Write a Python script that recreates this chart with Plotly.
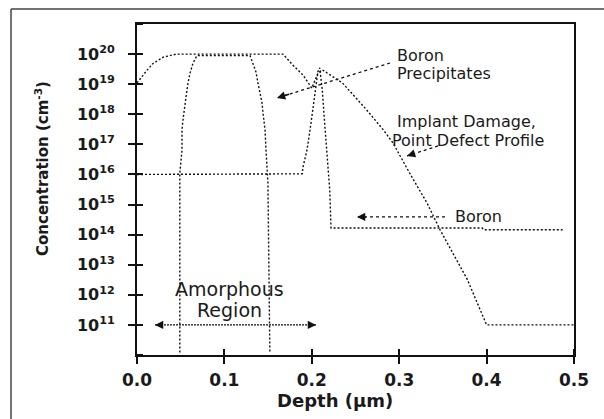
import plotly.graph_objects as go

# ---------------- data ----------------
x_ticks = [0.0, 0.1, 0.2, 0.3, 0.4, 0.5]
x_tick_text = ["0.0", "0.1", "0.2", "0.3", "0.4", "0.5"]
y_ticks = [1e10, 1e11, 1e12, 1e13, 1e14, 1e15, 1e16, 1e17, 1e18, 1e19, 1e20, 1e21]
y_tick_text = ["", "10<sup>11</sup>", "10<sup>12</sup>", "10<sup>13</sup>", "10<sup>14</sup>",
               "10<sup>15</sup>", "10<sup>16</sup>", "10<sup>17</sup>", "10<sup>18</sup>",
               "10<sup>19</sup>", "10<sup>20</sup>", ""]

# Implanted damage / point defect profile
damage_x = [0.0, 0.006, 0.011, 0.018, 0.03, 0.045, 0.167, 0.178, 0.19, 0.2, 0.207, 0.212,
            0.235, 0.261, 0.282, 0.293, 0.312, 0.332, 0.347, 0.378, 0.4, 0.5]
damage_y = [1.1e19, 1.9e19, 2.8e19, 4.8e19, 7.9e19, 1e20, 1e20, 4.4e19, 2.0e19, 7.4e18, 2.3e19, 3.0e19,
            1.1e19, 1.6e18, 3.0e17, 1.1e17, 1.1e16, 1.1e15, 1.4e14, 3.2e12, 1.0e11, 1.0e11]

# Boron profile
boron_x = [0.0, 0.189, 0.19, 0.1945, 0.198, 0.201, 0.204, 0.207, 0.209, 0.212, 0.214, 0.216,
           0.2185, 0.2205, 0.222, 0.395, 0.397, 0.487]
boron_y = [1e16, 1.05e16, 1.8e16, 6.5e16, 3.0e17, 1.4e18, 7.4e18, 2.6e19, 3.5e19, 6.5e18, 9.5e17, 1.4e17,
           2.1e16, 3.1e15, 1.66e14, 1.66e14, 1.45e14, 1.45e14]

# Boron precipitates / amorphous region outline
precip_x = [0.049, 0.049, 0.0515, 0.0515, 0.0526, 0.0549, 0.0572, 0.0584, 0.0606, 0.0641, 0.0686,
            0.1293, 0.1327, 0.1362, 0.1384, 0.1407, 0.143, 0.1442, 0.1465, 0.1476, 0.1487, 0.1498, 0.152]
precip_y = [1.2e10, 1.1e16, 6.5e16, 3.0e17, 6.5e17, 2.6e18, 6.5e18, 1.1e19, 2.3e19, 5.0e19, 8.9e19,
            8.9e19, 5.0e19, 2.5e19, 1.1e19, 5.1e18, 2.4e18, 1.1e18, 3.0e17, 6.5e16, 1.8e16, 5.2e15, 1.2e10]

# Amorphous-region double arrow (depth span, level)
amorph_x = [0.0206, 0.2048]
amorph_y = [1e11, 1e11]

# Annotation arrows: (text-end x, text-end log10 y) -> (tip x, tip log10 y)
boron_arrow = [(0.3524, 14.588), (0.2517, 14.588)]
precip_arrow = [(0.2895, 19.704), (0.1602, 18.542)]
damage_arrow = [(0.3444, 16.947), (0.3089, 16.615)]

INK = "#111111"
TXT = "#1a1a1a"
DOT = "2px,2px"

fig = go.Figure()

for xs, ys in [(damage_x, damage_y), (boron_x, boron_y), (precip_x, precip_y)]:
    fig.add_trace(go.Scatter(x=xs, y=ys, mode="lines",
                             line=dict(color=INK, width=1.4, dash=DOT),
                             showlegend=False, hoverinfo="skip"))

fig.add_trace(go.Scatter(x=amorph_x, y=amorph_y, mode="lines",
                         line=dict(color=INK, width=1.3, dash="2px,1px"),
                         showlegend=False, hoverinfo="skip"))

for (x0, y0), (x1, y1) in [boron_arrow, precip_arrow, damage_arrow]:
    fig.add_trace(go.Scatter(x=[x0, x1], y=[10 ** y0, 10 ** y1], mode="lines",
                             line=dict(color=INK, width=1.3, dash="3px,3px"),
                             showlegend=False, hoverinfo="skip"))

ann = []
def head(tip, tail):
    (tx, ty), (sx, sy) = tip, tail
    fx = tx + (sx - tx) * 0.12
    fy = ty + (sy - ty) * 0.12
    return dict(x=tx, y=ty, ax=fx, ay=fy, xref="x", yref="y", axref="x", ayref="y",
                showarrow=True, arrowhead=2, arrowsize=1.1, arrowwidth=1.5,
                arrowcolor=INK, text="")

ann.append(head(boron_arrow[1], boron_arrow[0]))
ann.append(head(precip_arrow[1], precip_arrow[0]))
ann.append(head(damage_arrow[1], damage_arrow[0]))
ann.append(dict(x=amorph_x[0], y=11.0, ax=amorph_x[0] + 0.01, ay=11.0, xref="x", yref="y",
                axref="x", ayref="y", showarrow=True, arrowhead=2, arrowsize=1.1,
                arrowwidth=1.5, arrowcolor=INK, text=""))
ann.append(dict(x=amorph_x[1], y=11.0, ax=amorph_x[1] - 0.01, ay=11.0, xref="x", yref="y",
                axref="x", ayref="y", showarrow=True, arrowhead=2, arrowsize=1.1,
                arrowwidth=1.5, arrowcolor=INK, text=""))

tfont = dict(family="DejaVu Sans", size=16, color=TXT)
def label(text, x, y, xanchor="left", size=None):
    f = dict(tfont)
    if size:
        f["size"] = size
    return dict(x=x, y=y, xref="x", yref="y", text=text, showarrow=False,
                xanchor=xanchor, yanchor="middle", font=f)

ann += [
    label("Boron", 0.2952, 19.937),
    label("Precipitates", 0.2952, 19.339),
    label("Implant Damage,", 0.2952, 17.744),
    label("Point Defect Profile", 0.2895, 17.113),
    label("Boron", 0.3616, 14.588),
    label("Amorphous", 0.1064, 12.196, xanchor="center", size=19),
    label("Region", 0.1064, 11.498, xanchor="center", size=19),
]

ann.append(dict(x=0.453, y=-0.136, xref="paper", yref="paper", text="Depth (µm)",
                showarrow=False, xanchor="center", yanchor="middle",
                font=dict(family="DejaVu Sans", size=18, color=TXT, weight="bold")))
ann.append(dict(x=-0.2174, y=0.565, xref="paper", yref="paper",
                text="Concentration (cm<sup>-3</sup>)", textangle=-90,
                showarrow=False, xanchor="center", yanchor="middle",
                font=dict(family="DejaVu Sans", size=15, color=TXT, weight="bold")))

shapes = [
    dict(type="line", xref="paper", yref="paper", x0=-0.2883, x1=-0.2883, y0=-0.2, y1=1.0453,
         line=dict(color="#444444", width=1.5)),
    dict(type="line", xref="paper", yref="paper", x0=-0.2883, x1=1.08, y0=1.0453, y1=1.0453,
         line=dict(color="#444444", width=1.5)),
]

fig.update_layout(
    width=604, height=419,
    margin=dict(l=137, r=30, t=24, b=64),
    paper_bgcolor="white", plot_bgcolor="white",
    annotations=ann, shapes=shapes,
    xaxis=dict(range=[0, 0.5], tickvals=x_ticks, ticktext=x_tick_text,
               ticks="outside", ticklen=7, tickwidth=2, tickcolor=INK,
               minor=dict(tickvals=x_ticks[1:], ticks="inside", ticklen=6,
                          tickwidth=2, tickcolor=INK, showgrid=False),
               showline=True, linewidth=2, linecolor=INK, mirror=True,
               showgrid=False, zeroline=False, ticklabelstandoff=2,
               tickfont=dict(family="DejaVu Sans", size=17, color=TXT, weight="bold")),
    yaxis=dict(type="log", range=[10, 21], tickvals=y_ticks, ticktext=y_tick_text,
               ticks="outside", ticklen=7, tickwidth=2, tickcolor=INK,
               minor=dict(tickvals=y_ticks, ticks="inside", ticklen=6,
                          tickwidth=2, tickcolor=INK, showgrid=False),
               showline=True, linewidth=2, linecolor=INK, mirror=True,
               showgrid=False, zeroline=False, ticklabelstandoff=10,
               tickfont=dict(family="DejaVu Sans", size=16, color=TXT, weight="bold")),
)

fig.write_html("out.html")
